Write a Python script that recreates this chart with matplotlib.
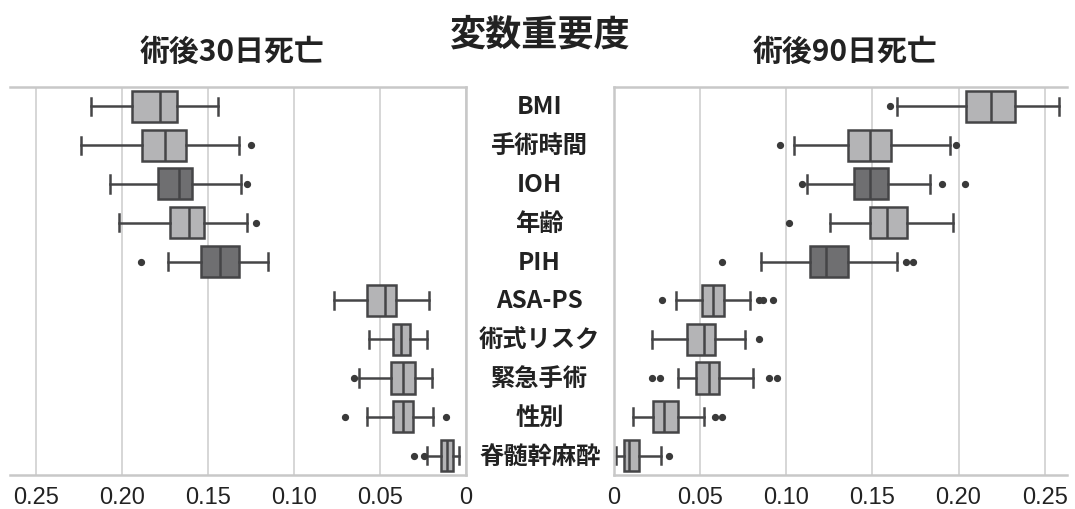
import matplotlib
matplotlib.use("Agg")
import matplotlib.pyplot as plt
from matplotlib.transforms import blended_transform_factory

plt.rcParams["font.family"] = ["Noto Sans CJK JP", "DejaVu Sans"]

# ---- data ----
variables = ["BMI", "手術時間", "IOH", "年齢", "PIH",
             "ASA-PS", "術式リスク", "緊急手術", "性別", "脊髄幹麻酔"]
dark_vars = ["IOH", "PIH"]

# 術後30日死亡
d30_whislo = [0.144, 0.132, 0.131, 0.127, 0.115, 0.0217, 0.0229, 0.0198, 0.019, 0.0039]
d30_q1 = [0.168, 0.163, 0.159, 0.152, 0.132, 0.0407, 0.0326, 0.0298, 0.0306, 0.0077]
d30_med = [0.178, 0.175, 0.167, 0.161, 0.143, 0.0469, 0.0376, 0.0368, 0.0368, 0.0109]
d30_q3 = [0.194, 0.188, 0.179, 0.172, 0.154, 0.0577, 0.0423, 0.0434, 0.0426, 0.0144]
d30_whishi = [0.218, 0.224, 0.207, 0.2015, 0.173, 0.077, 0.0562, 0.0624, 0.0574, 0.0225]
d30_fliers = [[], [0.125], [0.127], [0.122], [0.189],
              [], [], [0.0651], [0.0116, 0.0702], [0.0244, 0.0302]]

# 術後90日死亡
d90_whislo = [0.1644, 0.1043, 0.112, 0.1256, 0.0853, 0.036, 0.0221, 0.0372, 0.0112, 0.0012]
d90_q1 = [0.2043, 0.136, 0.1391, 0.1484, 0.114, 0.0508, 0.0426, 0.0473, 0.0225, 0.0055]
d90_med = [0.2186, 0.1484, 0.1484, 0.1585, 0.1233, 0.0577, 0.0523, 0.0551, 0.0291, 0.0089]
d90_q3 = [0.233, 0.1609, 0.1589, 0.1698, 0.136, 0.064, 0.0589, 0.0609, 0.0372, 0.0147]
d90_whishi = [0.2585, 0.1953, 0.1837, 0.1965, 0.1644, 0.0787, 0.0763, 0.0806, 0.0523, 0.0275]
d90_fliers = [[0.160], [0.0965, 0.1984], [0.1093, 0.1903, 0.2035], [0.1016],
              [0.0624, 0.1694, 0.1733], [0.0279, 0.0841, 0.0864, 0.0922],
              [0.0841], [0.0221, 0.0267, 0.0899, 0.0946], [0.0589, 0.0624], [0.0318]]

ticks = [0, 0.05, 0.10, 0.15, 0.20, 0.25]
tick_labels = ["0", "0.05", "0.10", "0.15", "0.20", "0.25"]

LIGHT = "#b4b4b6"
DARK = "#6f6f71"
EDGE = "#454547"
GRID = "#cfcfcf"
TEXT = "#222222"


def make_stats(lo, q1, med, q3, hi, fl):
    return [{"whislo": a, "q1": b, "med": c, "q3": d, "whishi": e, "fliers": f}
            for a, b, c, d, e, f in zip(lo, q1, med, q3, hi, fl)]


def draw_panel(ax, stats):
    lw = 1.8
    res = ax.bxp(stats, positions=range(len(stats)), orientation="horizontal",
                 widths=0.8, capwidths=0.44, patch_artist=True,
                 boxprops=dict(edgecolor=EDGE, linewidth=lw),
                 medianprops=dict(color=EDGE, linewidth=lw),
                 whiskerprops=dict(color=EDGE, linewidth=lw),
                 capprops=dict(color=EDGE, linewidth=lw),
                 flierprops=dict(marker="o", markersize=4.2, markerfacecolor="#3a3a3a",
                                 markeredgecolor="#3a3a3a", linestyle="none"))
    for box, name in zip(res["boxes"], variables):
        box.set_facecolor(DARK if name in dark_vars else LIGHT)
    ax.set_ylim(len(stats) - 0.5, -0.5)
    ax.set_yticks([])
    ax.set_xticks(ticks)
    ax.set_xticklabels(tick_labels)
    ax.tick_params(axis="x", length=0, pad=8, labelsize=17, labelcolor=TEXT)
    ax.grid(axis="x", color=GRID, linewidth=1.2)
    ax.set_axisbelow(True)
    for s in ax.spines.values():
        s.set_color("#c8c8c8")
        s.set_linewidth(1.8)
    for lab in ax.get_xticklabels():
        lab.set_family(["Liberation Sans", "DejaVu Sans"])


fig = plt.figure(figsize=(10.75, 5.10), dpi=100)
axL = fig.add_axes([0.0093, 0.0667, 0.4242, 0.7608])
axR = fig.add_axes([0.5712, 0.0667, 0.4214, 0.7608])

draw_panel(axL, make_stats(d30_whislo, d30_q1, d30_med, d30_q3, d30_whishi, d30_fliers))
axL.set_xlim(0.265, 0)
axL.spines["left"].set_visible(False)

draw_panel(axR, make_stats(d90_whislo, d90_q1, d90_med, d90_q3, d90_whishi, d90_fliers))
axR.set_xlim(0, 0.263)
axR.spines["right"].set_visible(False)

# variable names between the panels
tr = blended_transform_factory(fig.transFigure, axR.transData)
for i, name in enumerate(variables):
    fig.text(0.502, i, name, transform=tr, ha="center", va="center",
             fontsize=17.5, fontweight="bold", color=TEXT)

fig.text(0.216, 0.898, "術後30日死亡", ha="center", va="center",
         fontsize=21.5, fontweight="bold", color=TEXT)
fig.text(0.786, 0.898, "術後90日死亡", ha="center", va="center",
         fontsize=21.5, fontweight="bold", color=TEXT)
fig.text(0.502, 0.932, "変数重要度", ha="center", va="center",
         fontsize=26, fontweight="bold", color=TEXT)

fig.savefig("out.png", dpi=100, facecolor="white")
